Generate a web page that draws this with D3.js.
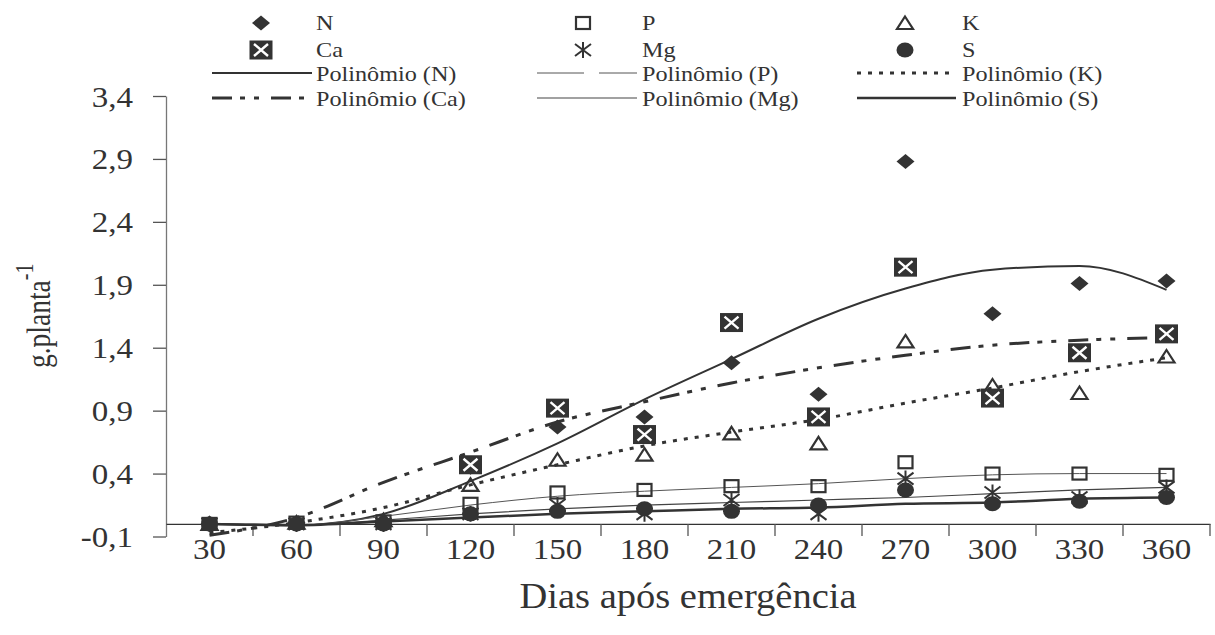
<!DOCTYPE html>
<html>
<head>
<meta charset="utf-8">
<script src="https://cdn.jsdelivr.net/npm/d3@7/dist/d3.min.js"></script>
<style>
  html, body { margin: 0; padding: 0; background: #fff; }
  svg { display: block; font-family: "Liberation Serif", "Times New Roman", serif; }
</style>
</head>
<body>
<div id="chart"></div>
<script>
// Data
const days = ["30", "60", "90", "120", "150", "180", "210", "240", "270", "300", "330", "360"];
const yTicks = [-0.1, 0.4, 0.9, 1.4, 1.9, 2.4, 2.9, 3.4];

// measured points (g.planta-1), null = no point drawn
const nValues  = [0.00, 0.01, 0.02, 0.45, 0.77, 0.85, 1.28, 1.03, 2.88, 1.67, 1.91, 1.93];
const pValues  = [0.00, 0.01, 0.02, 0.16, 0.25, 0.27, 0.30, 0.30, 0.49, 0.40, 0.40, 0.39];
const kValues  = [0.00, 0.01, 0.03, 0.31, 0.51, 0.55, 0.72, 0.64, 1.45, 1.10, 1.04, 1.33];
const caValues = [null, null, null, 0.47, 0.92, 0.71, 1.60, 0.85, 2.04, 1.00, 1.36, 1.51];
const mgValues = [0.00, 0.00, 0.00, 0.08, 0.15, 0.08, 0.19, 0.08, 0.36, 0.25, 0.21, 0.29];
const sValues  = [0.00, 0.00, 0.00, 0.08, 0.10, 0.12, 0.10, 0.15, 0.27, 0.16, 0.18, 0.21];

// polynomial trend lines at each day
const nTrend  = [0.00, -0.01, 0.08, 0.34, 0.64, 0.99, 1.31, 1.63, 1.87, 2.02, 2.05, 1.86];
const pTrend  = [0.00, -0.01, 0.06, 0.15, 0.22, 0.26, 0.29, 0.32, 0.36, 0.39, 0.40, 0.40];
const kTrend  = [-0.07, 0.01, 0.13, 0.31, 0.47, 0.62, 0.73, 0.83, 0.96, 1.08, 1.21, 1.32];
const caTrend = [-0.09, 0.05, 0.33, 0.57, 0.81, 0.97, 1.12, 1.24, 1.34, 1.42, 1.46, 1.48];
const mgTrend = [0.00, -0.01, 0.03, 0.08, 0.12, 0.15, 0.17, 0.19, 0.21, 0.24, 0.27, 0.29];
const sTrend  = [0.00, -0.01, 0.02, 0.05, 0.08, 0.10, 0.12, 0.13, 0.16, 0.17, 0.20, 0.21];

const INK = "#333";
const SX = 1.1; // the original picture is a bit stretched sideways

const series = [
  { name: "N",  values: nValues,  trend: nTrend,  marker: "diamond",  line: { w: 2,   c: INK } },
  { name: "P",  values: pValues,  trend: pTrend,  marker: "square",   line: { w: 1,   c: "#555" }, legendDash: "47,15,300" },
  { name: "K",  values: kValues,  trend: kTrend,  marker: "triangle", line: { w: 3,   c: INK, dash: "4,7" } },
  { name: "Ca", values: caValues, trend: caTrend, marker: "boxx",     line: { w: 3,   c: INK, dash: "20,8,5,9,5,12" } },
  { name: "Mg", values: mgValues, trend: mgTrend, marker: "star",     line: { w: 1.2, c: "#444" } },
  { name: "S",  values: sValues,  trend: sTrend,  marker: "circle",   line: { w: 2.5, c: INK } },
];

// Helpers
const fmt = (v) => d3.format(".1f")(v).replace(".", ",").replace("\u2212", "-");

const stretchText = (g, x, y, str, size, anchor = "start") =>
  g.append("text")
    .attr("transform", `translate(${x},${y}) scale(${SX},1)`)
    .attr("text-anchor", anchor)
    .attr("font-size", size)
    .attr("fill", INK)
    .text(str);

const drawMarker = (g, type, cx, cy) => {
  const m = g.append("g").attr("transform", `translate(${cx},${cy})`);
  if (type === "diamond") {
    m.append("path").attr("d", "M0,-7.5L9,0L0,7.5L-9,0Z").attr("fill", INK);
  } else if (type === "square") {
    m.append("rect").attr("x", -7).attr("y", -6).attr("width", 14).attr("height", 12)
      .attr("fill", "none").attr("stroke", INK).attr("stroke-width", 2.2);
  } else if (type === "triangle") {
    m.append("path").attr("d", "M0,-6.5L8,6L-8,6Z")
      .attr("fill", "none").attr("stroke", INK).attr("stroke-width", 2.2);
  } else if (type === "boxx") {
    m.append("rect").attr("x", -11.5).attr("y", -9.5).attr("width", 23).attr("height", 19).attr("fill", INK);
    m.append("path").attr("d", "M-7,-6L7,6M7,-6L-7,6")
      .attr("stroke", "#fff").attr("stroke-width", 2.4);
  } else if (type === "star") {
    m.append("path").attr("d", "M0,-8V8M-8,-6L8,6M8,-6L-8,6")
      .attr("stroke", INK).attr("stroke-width", 2);
  } else if (type === "circle") {
    m.append("ellipse").attr("rx", 8.5).attr("ry", 7.5).attr("fill", INK);
  }
};

const drawChart = () => {
  const width = 1215;
  const height = 635;

  const svg = d3.select("#chart").append("svg")
    .attr("width", width)
    .attr("height", height);

  const x = d3.scaleBand().domain(days).range([166, 1210]).padding(0);
  const y = d3.scaleLinear().domain([-0.1, 3.4]).range([536.5, 96]);
  const cx = (d) => x(d) + x.bandwidth() / 2;

  // Y axis
  const yAxis = svg.append("g")
    .attr("transform", "translate(166,0)")
    .call(d3.axisLeft(y).tickValues(yTicks).tickSize(13).tickSizeOuter(0).tickFormat(fmt));
  yAxis.select(".domain").attr("stroke", "#777").attr("stroke-width", 1.3);
  yAxis.selectAll(".tick line").attr("stroke", "#555").attr("stroke-width", 1.3);
  yAxis.selectAll(".tick text")
    .attr("x", null).attr("dy", null)
    .attr("transform", `translate(-33,10) scale(${SX},1)`)
    .attr("font-family", "Liberation Serif")
    .attr("font-size", 30)
    .attr("fill", INK);

  // X axis at zero
  const xAxis = svg.append("g")
    .attr("transform", `translate(0,${y(0)})`)
    .call(d3.axisBottom(x).tickSize(0).tickSizeOuter(0));
  xAxis.select(".domain").attr("stroke", "#333").attr("stroke-width", 1.3);
  xAxis.selectAll(".tick text")
    .attr("y", null).attr("dy", null)
    .attr("transform", `translate(0,${559 - y(0)}) scale(${SX},1)`)
    .attr("font-family", "Liberation Serif")
    .attr("font-size", 30)
    .attr("fill", INK);
  xAxis.selectAll(".boundary")
    .data(days)
    .enter()
    .append("line")
    .attr("class", "boundary")
    .attr("x1", (d) => x(d) + x.bandwidth())
    .attr("x2", (d) => x(d) + x.bandwidth())
    .attr("y1", 0)
    .attr("y2", 12)
    .attr("stroke", "#555")
    .attr("stroke-width", 1.3);

  // Axis titles
  stretchText(svg, 688, 608, "Dias após emergência", 35, "middle");

  const yTitle = svg.append("text")
    .attr("transform", `translate(50,368) scale(1.25,1) rotate(-90)`)
    .attr("font-size", 27.5)
    .attr("fill", INK);
  yTitle.append("tspan").text("g.planta");
  yTitle.append("tspan").attr("font-size", 20).attr("dy", -14).text("-1");

  // Trend lines
  const line = d3.line()
    .x((d, i) => cx(days[i]))
    .y((d) => y(d))
    .curve(d3.curveMonotoneX);

  svg.append("g")
    .attr("class", "trends")
    .selectAll("path")
    .data(series)
    .enter()
    .append("path")
    .attr("d", (s) => line(s.trend))
    .attr("fill", "none")
    .attr("stroke", (s) => s.line.c)
    .attr("stroke-width", (s) => s.line.w)
    .attr("stroke-dasharray", (s) => s.line.dash || null);

  // Markers
  const marks = svg.append("g").attr("class", "markers");
  series.forEach((s) => {
    s.values.forEach((v, i) => {
      if (v !== null) drawMarker(marks, s.marker, cx(days[i]), y(v));
    });
  });

  // Legend: 3 columns, markers on rows 1-2, trend lines on rows 3-4
  const legend = svg.append("g").attr("class", "legend");
  const colMarker = [261, 583, 905];
  const colText = [316, 642, 962];
  const colLine = [[212, 312], [537, 637], [857, 956]];
  series.forEach((s, i) => {
    const col = i % 3;
    const row = Math.floor(i / 3);
    const my = [23, 50][row];
    drawMarker(legend, s.marker, colMarker[col], my);
    stretchText(legend, colText[col], my + 7, s.name, 22);

    const ly = [73, 98][row];
    legend.append("line")
      .attr("x1", colLine[col][0]).attr("x2", colLine[col][1])
      .attr("y1", ly).attr("y2", ly)
      .attr("stroke", s.line.c)
      .attr("stroke-width", s.line.w)
      .attr("stroke-dasharray", s.legendDash || s.line.dash || null);
    stretchText(legend, colText[col], ly + 7.5, `Polinômio (${s.name})`, 22);
  });
};

drawChart();
</script>
</body>
</html>
